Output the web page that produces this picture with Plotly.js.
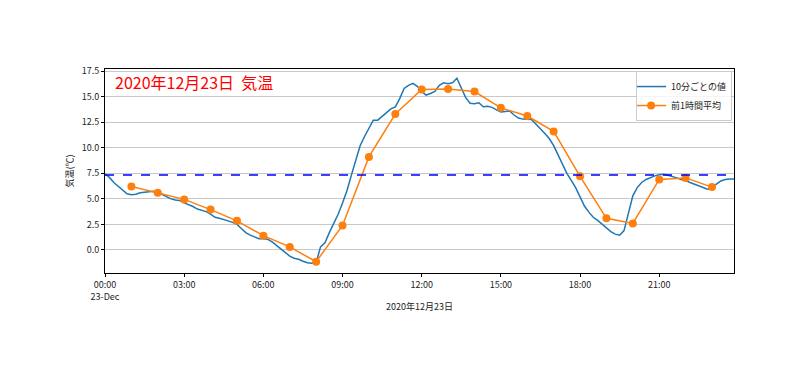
<!DOCTYPE html>
<html><head><meta charset="utf-8">
<script src="https://cdn.plot.ly/plotly-3.0.1.min.js"></script>
<style>html,body{margin:0;padding:0;background:#fff}#chart{width:800px;height:378px}</style>
</head><body><div id="chart"></div>
<script>
const dateStr = "2020-12-23";
// 10-minute values from 00:00 to 23:50
const tenMinValues = [
 7.45,7.1,6.6,6.2,5.8,5.5,
 5.4,5.45,5.6,5.65,5.75,5.75,
 5.65,5.45,5.2,5.0,4.9,4.85,
 4.6,4.45,4.25,4.0,3.9,3.75,
 3.5,3.2,3.1,3.0,2.85,2.7,
 2.5,2.1,1.7,1.45,1.3,1.1,
 1.1,1.05,0.8,0.45,0.05,-0.3,
 -0.6,-0.8,-0.9,-1.1,-1.25,-1.3,
 -1.25,0.3,0.7,1.7,2.6,3.5,
 4.6,5.8,7.3,8.8,10.2,11.1,
 11.9,12.7,12.7,13.1,13.5,13.8,
 14.0,14.8,15.8,16.1,16.3,16.0,
 15.5,15.15,15.3,15.5,16.1,16.35,
 16.25,16.35,16.8,15.9,14.9,14.35,
 14.3,14.4,14.0,14.05,13.95,13.7,
 13.5,13.55,13.6,13.2,12.9,12.8,
 12.8,12.75,12.3,11.9,11.4,10.9,
 10.2,9.3,8.4,7.5,6.8,6.1,
 5.2,4.3,3.7,3.2,2.9,2.55,
 2.2,1.8,1.55,1.45,1.9,3.7,
 5.3,6.1,6.6,6.9,7.1,7.25,
 7.35,7.4,7.3,7.2,7.05,6.9,
 6.8,6.6,6.45,6.3,6.15,5.95,
 6.0,6.45,6.75,6.9,6.95,6.95
];
// hourly averages at 01:00 .. 23:00
const hourlyHours = [1,2,3,4,5,6,7,8,9,10,11,12,13,14,15,16,17,18,19,20,21,22,23];
const hourlyValues = [6.2,5.6,4.95,3.95,2.85,1.4,0.3,-1.15,2.4,9.1,13.3,15.7,15.75,15.5,13.9,13.1,11.6,7.2,3.1,2.6,6.9,7.05,6.15];
const dailyMean = 7.33;
const xTickLabels = ["00:00<br>23-Dec","03:00","06:00","09:00","12:00","15:00","18:00","21:00"];
const xTickHours = [0,3,6,9,12,15,18,21];
const yTickVals = [0,2.5,5,7.5,10,12.5,15,17.5];

function pad(n){return (n<10?"0":"")+n;}
function ts(h,m){return dateStr+" "+pad(h)+":"+pad(m)+":00";}
const tenMinX = tenMinValues.map((v,i)=>ts(Math.floor(i/6),(i%6)*10));
const hourlyX = hourlyHours.map(h=>ts(h,0));
const startT = ts(0,0), endT = ts(23,50);

const font = "Noto Sans CJK JP, DejaVu Sans, sans-serif";
const data = [
 {x:tenMinX,y:tenMinValues,type:"scatter",mode:"lines",name:"10分ごとの値",
  line:{color:"#1f77b4",width:1.5}},
 {x:hourlyX,y:hourlyValues,type:"scatter",mode:"lines+markers",name:"前1時間平均",
  line:{color:"#ff7f0e",width:1.5},marker:{color:"#ff7f0e",size:8}},
 {x:[startT,endT],y:[dailyMean,dailyMean],type:"scatter",mode:"lines",showlegend:false,
  line:{color:"#0000ff",width:1.5,dash:"dash"},hoverinfo:"skip"}
];
const layout = {
 width:800,height:378,
 margin:{l:105,r:66,t:69,b:105},
 paper_bgcolor:"#fff",plot_bgcolor:"#fff",
 font:{family:font,size:9,color:"#222"},
 showlegend:true,
 legend:{x:0.997,y:0.99,xanchor:"right",yanchor:"top",bgcolor:"rgba(255,255,255,0.8)",
   bordercolor:"#ccc",borderwidth:1,font:{size:9,family:font,color:"#222"},tracegroupgap:0,
   itemwidth:30,indentation:-6},
 xaxis:{type:"date",range:[startT,endT],tickvals:xTickHours.map(h=>ts(h,0)),ticktext:xTickLabels,
   showgrid:false,showline:true,linecolor:"#000",linewidth:1,mirror:true,ticks:"outside",ticklen:3,
   tickcolor:"#000",zeroline:false,tickfont:{size:9,family:font},
   title:{text:"2020年12月23日",font:{size:9,family:font},standoff:2}},
 yaxis:{range:[-2.25,17.7],tickvals:yTickVals,ticktext:yTickVals.map(v=>v.toFixed(1)),
   showgrid:true,gridcolor:"#c8c8c8",gridwidth:1,showline:true,linecolor:"#000",linewidth:1,mirror:true,
   ticks:"outside",ticklen:3,tickcolor:"#000",zeroline:false,tickfont:{size:9,family:font},
   title:{text:"気温(℃)",font:{size:9,family:font},standoff:6}},
 annotations:[{text:"2020年12月23日  気温",xref:"paper",yref:"paper",x:0.012,y:1.005,
   xanchor:"left",yanchor:"top",showarrow:false,font:{size:16,color:"#ff0000",family:font}}]
};
Plotly.newPlot("chart",data,layout,{displayModeBar:false,staticPlot:true});
</script></body></html>
